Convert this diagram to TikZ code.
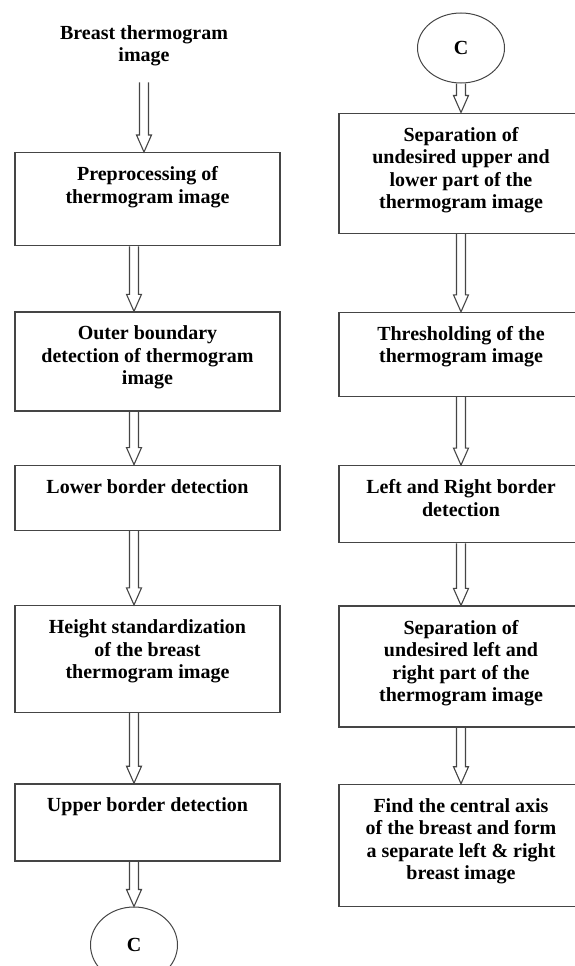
\documentclass[tikz,border=0pt]{standalone}
\usepackage{fontspec}
\setmainfont{Liberation Serif}
\usetikzlibrary{shapes.geometric,positioning,calc}
\definecolor{edgegray}{HTML}{454545}
\newcommand{\steptext}[2]{\parbox[c][#1][t]{240pt}{\centering\rule{0pt}{28pt}#2}}
\tikzstyle{process} = [rectangle, draw=edgegray, line width=1.3pt, inner sep=0pt, minimum width=265pt, font=\bfseries\fontsize{20}{22.5}\selectfont]
\tikzstyle{rightproc} = [process, minimum width=244pt]
\tikzstyle{connector} = [ellipse, draw=edgegray, line width=1pt, minimum width=87pt, font=\bfseries\fontsize{20}{22.5}\selectfont]
\tikzstyle{blockarrow} = [draw=edgegray, line width=1.1pt, to path={let \p1=(\tikztostart), \p2=(\tikztotarget) in (\x1-4.5pt,\y1) -- (\x1-4.5pt,\y2+17pt) -- (\x1-7.5pt,\y2+17pt) -- (\x1,\y2) -- (\x1+7.5pt,\y2+17pt) -- (\x1+4.5pt,\y2+17pt) -- (\x1+4.5pt,\y1)}]

\begin{document}
\begin{tikzpicture}[x=1pt,y=-1pt]
\useasboundingbox (0,0) rectangle (574,966);

% left column
\node (title) [anchor=north, inner sep=0pt, font=\bfseries\fontsize{20}{22.5}\selectfont] at (144,11) {\parbox[t]{240pt}{\centering\rule{0pt}{28pt}Breast thermogram\\image}};
\node (prep) [process, anchor=north] at (147.5,152) {\steptext{93pt}{Preprocessing of\\thermogram image}};
\node (outer) [process, below=65pt of prep] {\steptext{99pt}{Outer boundary\\detection of thermogram\\image}};
\node (lower) [process, below=53pt of outer] {\steptext{65pt}{Lower border detection}};
\node (height) [process, below=74pt of lower] {\steptext{107pt}{Height standardization\\of the breast\\thermogram image}};
\node (upper) [process, below=70pt of height] {\steptext{77pt}{Upper border detection}};
\node (conL) [connector, minimum height=76pt, below=45pt of upper, xshift=-13.5pt] {C};

% right column
\node (conR) [connector, minimum height=70pt] at (461,48) {C};
\node (sepUL) [rightproc, below=29pt of conR] {\steptext{120pt}{Separation of\\undesired upper and\\lower part of the\\thermogram image}};
\node (thresh) [rightproc, below=78pt of sepUL] {\steptext{84pt}{Thresholding of the\\thermogram image}};
\node (lrborder) [rightproc, below=68pt of thresh] {\steptext{77pt}{Left and Right border\\detection}};
\node (sepLR) [rightproc, below=62pt of lrborder] {\steptext{121pt}{Separation of\\undesired left and\\right part of the\\thermogram image}};
\node (axis) [rightproc, below=56pt of sepLR] {\steptext{122pt}{Find the central axis\\of the breast and form\\a separate left \& right\\breast image}};

\draw [blockarrow] ([yshift=-16pt]title.south) to (prep.north);
\draw [blockarrow] (prep.south -| conL) to (outer.north);
\draw [blockarrow] (outer.south -| conL) to (lower.north);
\draw [blockarrow] (lower.south -| conL) to (height.north);
\draw [blockarrow] (height.south -| conL) to (upper.north);
\draw [blockarrow] (upper.south -| conL) to (conL.north);

\draw [blockarrow] (conR.south) to (sepUL.north);
\draw [blockarrow] (sepUL.south) to (thresh.north);
\draw [blockarrow] (thresh.south) to (lrborder.north);
\draw [blockarrow] (lrborder.south) to (sepLR.north);
\draw [blockarrow] (sepLR.south) to (axis.north);
\end{tikzpicture}
\end{document}
